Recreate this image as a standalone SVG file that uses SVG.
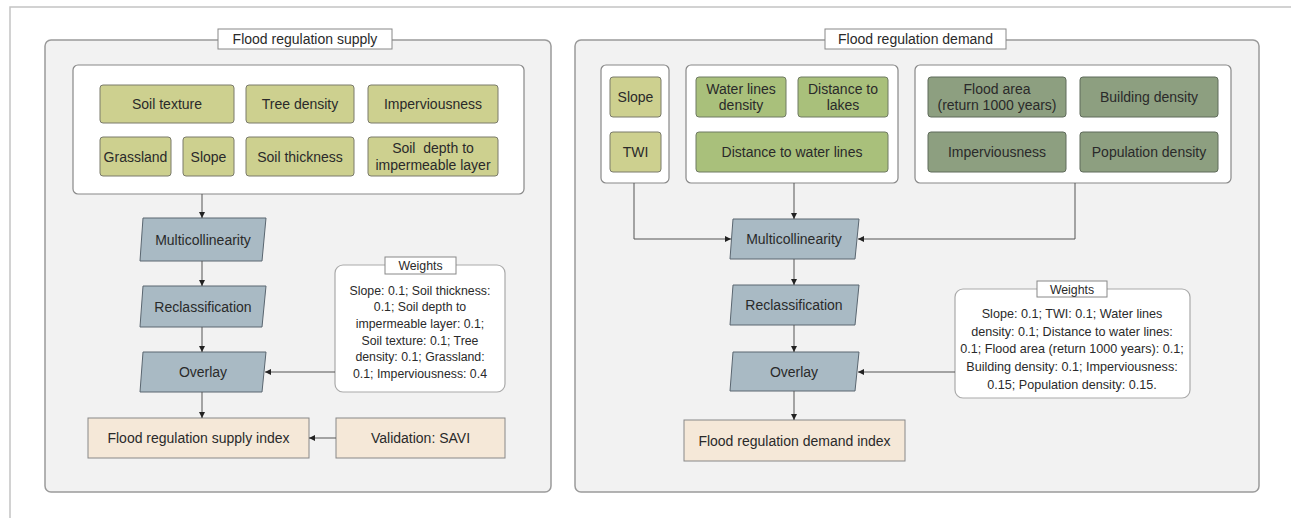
<svg xmlns="http://www.w3.org/2000/svg" width="1291" height="518" viewBox="0 0 1291 518">
<defs>
<marker id="ah" markerUnits="userSpaceOnUse" markerWidth="7" markerHeight="7" refX="6" refY="3.5" orient="auto">
<path d="M0,0.5 L6,3.5 L0,6.5 z" fill="#222"/>
</marker>
<style>
text{font-family:"Liberation Sans",Arial,sans-serif;fill:#2a2a2a;text-anchor:middle}
.t{font-size:14px}
.s{font-size:12.3px}
.s2{font-size:12.6px}
.panel{fill:#f2f2f2;stroke:#9a9a9a;stroke-width:1.5}
.title{fill:#fff;stroke:#888;stroke-width:1}
.grp{fill:#fff;stroke:#888;stroke-width:1.2}
.b1{fill:#cdd08f;stroke:#7a7a6a;stroke-width:1}
.b2{fill:#a9c07b;stroke:#6f7a62;stroke-width:1}
.b3{fill:#8d9f80;stroke:#5f6a5a;stroke-width:1}
.proc{fill:#a9bac4;stroke:#5a6670;stroke-width:1}
.out{fill:#f5e8d8;stroke:#888;stroke-width:1}
.wt{fill:#fff;stroke:#aaa;stroke-width:1.2}
.c{fill:none;stroke:#555;stroke-width:1;marker-end:url(#ah)}
</style>
</defs>
<rect width="1291" height="518" fill="#fff"/>
<path d="M10,518 V7 H1291" fill="none" stroke="#c4c4c4" stroke-width="1.5"/>

<g id="panel-supply">
<rect class="panel" x="45" y="40" width="506" height="452" rx="6"/>
<rect class="title" x="218" y="29" width="174" height="20"/>
<text class="t" x="305" y="44">Flood regulation supply</text>
<rect class="grp" x="73" y="65" width="451" height="129" rx="5"/>
</g>
<g id="n-soil-texture"><rect class="b1" x="100" y="85" width="134" height="38" rx="3"/><text class="t" x="167" y="109">Soil texture</text></g>
<g id="n-tree-density"><rect class="b1" x="246" y="85" width="108" height="38" rx="3"/><text class="t" x="300" y="109">Tree density</text></g>
<g id="n-imperv-s"><rect class="b1" x="368" y="85" width="130" height="38" rx="3"/><text class="t" x="433" y="109">Imperviousness</text></g>
<g id="n-grassland"><rect class="b1" x="100" y="137" width="71" height="39" rx="3"/><text class="t" x="135.5" y="161.5">Grassland</text></g>
<g id="n-slope-s"><rect class="b1" x="183" y="137" width="51" height="39" rx="3"/><text class="t" x="208.5" y="161.5">Slope</text></g>
<g id="n-soil-thickness"><rect class="b1" x="246" y="137" width="108" height="39" rx="3"/><text class="t" x="300" y="161.5">Soil thickness</text></g>
<g id="n-soil-depth"><rect class="b1" x="368" y="137" width="130" height="39" rx="3"/><text class="t" x="433" y="153" xml:space="preserve">Soil  depth to</text><text class="t" x="433" y="169.5">impermeable layer</text></g>

<g id="n-multi-s"><path class="proc" d="M143,218 H266 L262,261 H140 Z"/><text class="t" x="203" y="244.5">Multicollinearity</text></g>
<g id="n-reclass-s"><path class="proc" d="M143,286 H266 L262,327 H140 Z"/><text class="t" x="203" y="311.5">Reclassification</text></g>
<g id="n-overlay-s"><path class="proc" d="M143,352 H266 L262,392 H140 Z"/><text class="t" x="203" y="377">Overlay</text></g>
<g id="n-supply-index"><rect class="out" x="88" y="418" width="221" height="40"/><text class="t" x="198.5" y="443">Flood regulation supply index</text></g>
<g id="n-validation"><rect class="out" x="336" y="418" width="169" height="40"/><text class="t" x="420.5" y="443">Validation: SAVI</text></g>
<g id="n-weights-s">
<rect class="wt" x="335" y="265" width="170" height="127" rx="8"/>
<rect class="title" x="385" y="257" width="71" height="17"/>
<text class="s" x="420.5" y="270">Weights</text>
<text class="s" x="420" y="294.5">Slope: 0.1; Soil thickness:</text>
<text class="s" x="420" y="311">0.1; Soil depth to</text>
<text class="s" x="420" y="327.5">impermeable layer: 0.1;</text>
<text class="s" x="420" y="344.5">Soil texture: 0.1; Tree</text>
<text class="s" x="420" y="361">density: 0.1; Grassland:</text>
<text class="s" x="420" y="377.5">0.1; Imperviousness: 0.4</text>
</g>

<g id="panel-demand">
<rect class="panel" x="575" y="40" width="684" height="452" rx="6"/>
<rect class="title" x="825" y="29" width="181" height="20"/>
<text class="t" x="915.5" y="44">Flood regulation demand</text>
<rect class="grp" x="601" y="65" width="68" height="118" rx="5"/>
<rect class="grp" x="686" y="65" width="212" height="118" rx="5"/>
<rect class="grp" x="915" y="65" width="316" height="118" rx="5"/>
</g>
<g id="n-slope-d"><rect class="b1" x="610" y="77" width="51" height="40" rx="3"/><text class="t" x="635.5" y="102">Slope</text></g>
<g id="n-twi"><rect class="b1" x="610" y="132" width="51" height="40" rx="3"/><text class="t" x="635.5" y="157">TWI</text></g>
<g id="n-water-lines-density"><rect class="b2" x="696" y="77" width="90" height="40" rx="3"/><text class="t" x="741" y="93.5">Water lines</text><text class="t" x="741" y="110">density</text></g>
<g id="n-dist-lakes"><rect class="b2" x="798" y="77" width="90" height="40" rx="3"/><text class="t" x="843" y="93.5">Distance to</text><text class="t" x="843" y="110">lakes</text></g>
<g id="n-dist-water-lines"><rect class="b2" x="696" y="132" width="192" height="40" rx="3"/><text class="t" x="792" y="157">Distance to water lines</text></g>
<g id="n-flood-area"><rect class="b3" x="928" y="77" width="138" height="40" rx="3"/><text class="t" x="997" y="93.5">Flood area</text><text class="t" x="997" y="110">(return 1000 years)</text></g>
<g id="n-building-density"><rect class="b3" x="1080" y="77" width="138" height="40" rx="3"/><text class="t" x="1149" y="102">Building density</text></g>
<g id="n-imperv-d"><rect class="b3" x="928" y="132" width="138" height="40" rx="3"/><text class="t" x="997" y="157">Imperviousness</text></g>
<g id="n-population-density"><rect class="b3" x="1080" y="132" width="138" height="40" rx="3"/><text class="t" x="1149" y="157">Population density</text></g>

<g id="n-multi-d"><path class="proc" d="M733,219 H859 L855,259 H730 Z"/><text class="t" x="794" y="244">Multicollinearity</text></g>
<g id="n-reclass-d"><path class="proc" d="M733,285 H859 L855,325 H730 Z"/><text class="t" x="794" y="310">Reclassification</text></g>
<g id="n-overlay-d"><path class="proc" d="M733,352 H859 L855,391 H730 Z"/><text class="t" x="794" y="376.5">Overlay</text></g>
<g id="n-demand-index"><rect class="out" x="684" y="420" width="221" height="41"/><text class="t" x="794.5" y="445.5">Flood regulation demand index</text></g>
<g id="n-weights-d">
<rect class="wt" x="955" y="289" width="235" height="109" rx="8"/>
<rect class="title" x="1037" y="281" width="70" height="16"/>
<text class="s" x="1072" y="293.5">Weights</text>
<text class="s2" x="1072" y="317.5">Slope: 0.1; TWI: 0.1; Water lines</text>
<text class="s2" x="1072" y="335.5">density: 0.1; Distance to water lines:</text>
<text class="s2" x="1072" y="353">0.1; Flood area (return 1000 years): 0.1;</text>
<text class="s2" x="1072" y="371">Building density: 0.1; Imperviousness:</text>
<text class="s2" x="1072" y="388.5">0.15; Population density: 0.15.</text>
</g>

<g id="connectors">
<path class="c" d="M202,194 V218"/>
<path class="c" d="M202,261 V286"/>
<path class="c" d="M202,327 V352"/>
<path class="c" d="M202,392 V418"/>
<path class="c" d="M336,438 H309"/>
<path class="c" d="M335,372 H265"/>
<path class="c" d="M634,183 V239 H731"/>
<path class="c" d="M794,183 V219"/>
<path class="c" d="M1075,183 V239 H858"/>
<path class="c" d="M794,259 V285"/>
<path class="c" d="M794,325 V352"/>
<path class="c" d="M794,391 V420"/>
<path class="c" d="M955,372 H858"/>
</g>
</svg>
